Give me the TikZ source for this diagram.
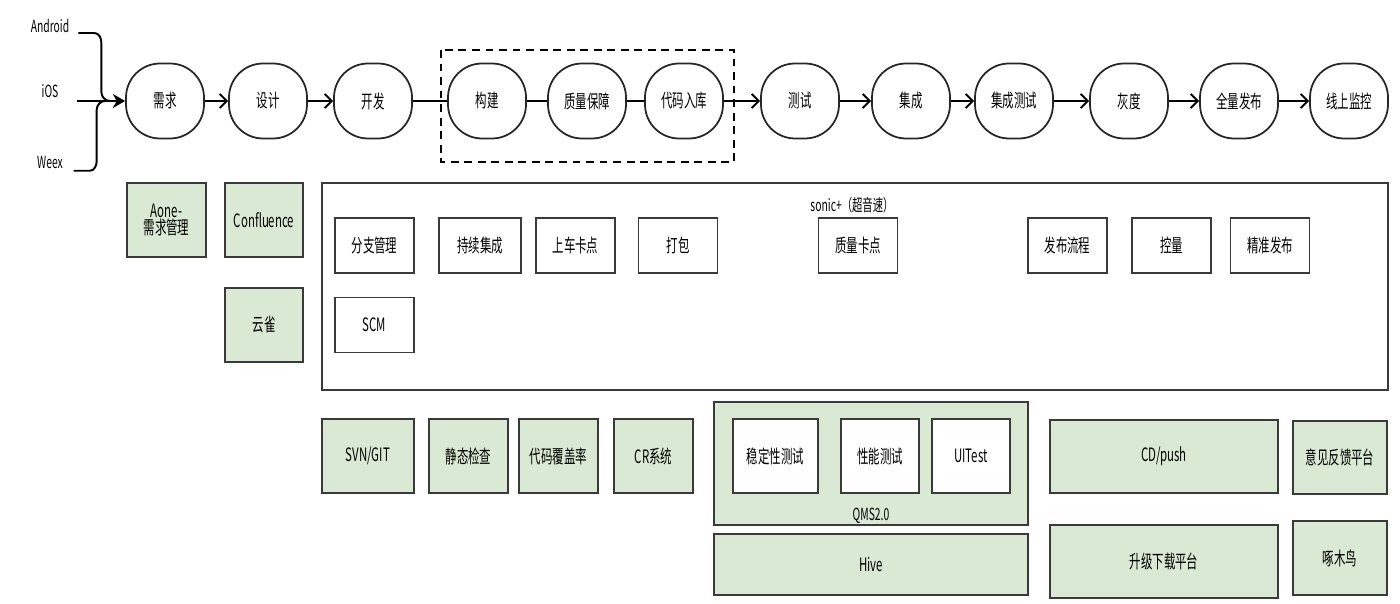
\documentclass[tikz,border=0pt]{standalone}
\usepackage{fontspec}
\setmainfont{Noto Sans CJK SC}[FakeStretch=0.62]
\usepackage{xcolor}
\definecolor{toolgreen}{HTML}{D9E9D3}
\definecolor{edgegray}{HTML}{3A3A3A}
\usepackage{tikz}
\usetikzlibrary{arrows.meta, positioning, calc}

\begin{document}
\begin{tikzpicture}[
  x=0.02cm, y=-0.02cm,
  font=\fontsize{10.5}{12}\selectfont,
  stage/.style={draw=black!85, line width=1pt, rounded corners=0.68cm, fill=white,
                minimum width=1.56cm, minimum height=1.5cm, inner sep=1pt},
  tool/.style={draw=edgegray, line width=1pt, fill=toolgreen, align=center, inner sep=1pt},
  part/.style={draw=edgegray, line width=1pt, fill=white, align=center, inner sep=1pt},
  cell/.style={part, minimum width=1.58cm, minimum height=1.1cm},
  flow/.style={line width=1.1pt, -{Straight Barb[length=4pt, width=8pt, line width=1.1pt]}},
  link/.style={line width=1.1pt},
  brace/.style={line width=1.1pt, rounded corners=0pt},
  lbl/.style={font=\fontsize{9.5}{11}\selectfont, inner sep=1pt}
]
\useasboundingbox (0,0) rectangle (1400,604);

% platforms (left)
\node[lbl] (android) at (50,26) {Android};
\node[lbl] (ios) at (50,91) {iOS};
\node[lbl] (weex) at (50,162) {Weex};

% pipeline stages
\node[stage] (req) at (165,101) {需求};
\node[stage] (design) at (268,101) {设计};
\node[stage] (dev) at (373,101) {开发};
\node[stage] (build) at (487,101) {构建};
\node[stage] (qa) at (587,101) {质量保障};
\node[stage] (commit) at (684,101) {代码入库};
\node[stage] (test) at (800,101) {测试};
\node[stage] (integ) at (911,101) {集成};
\node[stage] (itest) at (1014,101) {集成测试};
\node[stage] (gray) at (1129,101) {灰度};
\node[stage] (release) at (1239,101) {全量发布};
\node[stage] (monitor) at (1349,101) {线上监控};

% dashed group round build / qa / commit
\draw[line width=0.9pt, dash pattern=on 4.5pt off 3.2pt] (441,50) rectangle (734,162);

% brace and entry arrow
\draw[brace] ([xshift=4pt, yshift=-4pt]android.east) -- ++(16,0) to[out=0, in=90] ++(7,10)
  -- ++(0,49) to[out=-90, in=180] ++(9,9);
\draw[brace] ([xshift=5pt, yshift=-5pt]weex.east) -- ++(16,0) to[out=0, in=-90] ++(7,-10)
  -- ++(0,-51) to[out=90, in=180] ++(9,-9);
\draw[line width=1.3pt, -{Stealth[length=7pt, width=8pt]}] ($(ios.east |- req.west)+(17,0)$) -- (req.west);

% connectors
\foreach \a/\b in {req/design, design/dev, commit/test, test/integ, integ/itest,
                   itest/gray, gray/release, release/monitor}
  \draw[flow] (\a) -- (\b);
\foreach \a/\b in {dev/build, build/qa, qa/commit}
  \draw[link] (\a) -- (\b);

% row 2: tools and sonic+
\node[tool, minimum width=1.58cm, minimum height=1.48cm] (aone) at (166.5,220) {Aone-\\[-2pt]需求管理};
\node[tool, minimum width=1.56cm, minimum height=1.48cm] (confluence) at (264,220) {Confluence};
\node[tool, minimum width=1.56cm, minimum height=1.48cm] (yunque) at (264,325) {云雀};
\node[part, minimum width=21.32cm, minimum height=4.14cm] (sonic) at (855,286.5) {};
\node[lbl] (sonictitle) at (852,205) {sonic+（超音速）};

\node[cell] (branch) at (374.5,245.5) {分支管理};
\node[cell, minimum width=1.64cm] (ci) at (480,245.5) {持续集成};
\node[cell] (gate) at (575.5,245.5) {上车卡点};
\node[cell] (pack) at (678,245.5) {打包};
\node[cell] (qgate) at (858,245.5) {质量卡点};
\node[cell] (pubflow) at (1067.5,245.5) {发布流程};
\node[cell] (volume) at (1171.5,245.5) {控量};
\node[cell] (precise) at (1270,245.5) {精准发布};
\node[cell] (scm) at (374.5,325) {SCM};

% row 3: supporting systems
\node[tool, minimum width=1.84cm, minimum height=1.48cm] (svn) at (368,456) {SVN/GIT};
\node[tool, minimum width=1.58cm, minimum height=1.48cm] (lint) at (468.5,456) {静态检查};
\node[tool, minimum width=1.58cm, minimum height=1.48cm] (cover) at (558.5,456) {代码覆盖率};
\node[tool, minimum width=1.58cm, minimum height=1.48cm] (cr) at (653.5,456) {CR系统};

\node[tool, minimum width=6.28cm, minimum height=2.46cm] (qms) at (871,463.5) {};
\node[part, minimum width=1.7cm, minimum height=1.48cm] (stable) at (775.5,456) {稳定性测试};
\node[part, minimum width=1.56cm, minimum height=1.48cm] (perf) at (880,456) {性能测试};
\node[part, minimum width=1.56cm, minimum height=1.48cm] (uitest) at (971,456) {UITest};
\node[lbl, above=0pt of qms.south] (qmstitle) {QMS2.0};
\node[tool, minimum width=6.28cm, minimum height=1.22cm] (hive) at (871,564.5) {Hive};

\node[tool, minimum width=4.56cm, minimum height=1.46cm] (cdpush) at (1164,456.5) {CD/push};
\node[tool, minimum width=4.56cm, minimum height=1.46cm] (upgrade) at (1164,561.5) {升级下载平台};
\node[tool, minimum width=1.88cm, minimum height=1.46cm] (feedback) at (1340,457.5) {意见反馈平台};
\node[tool, minimum width=1.88cm, minimum height=1.48cm] (woodpecker) at (1340,558) {啄木鸟};

\end{tikzpicture}
\end{document}
